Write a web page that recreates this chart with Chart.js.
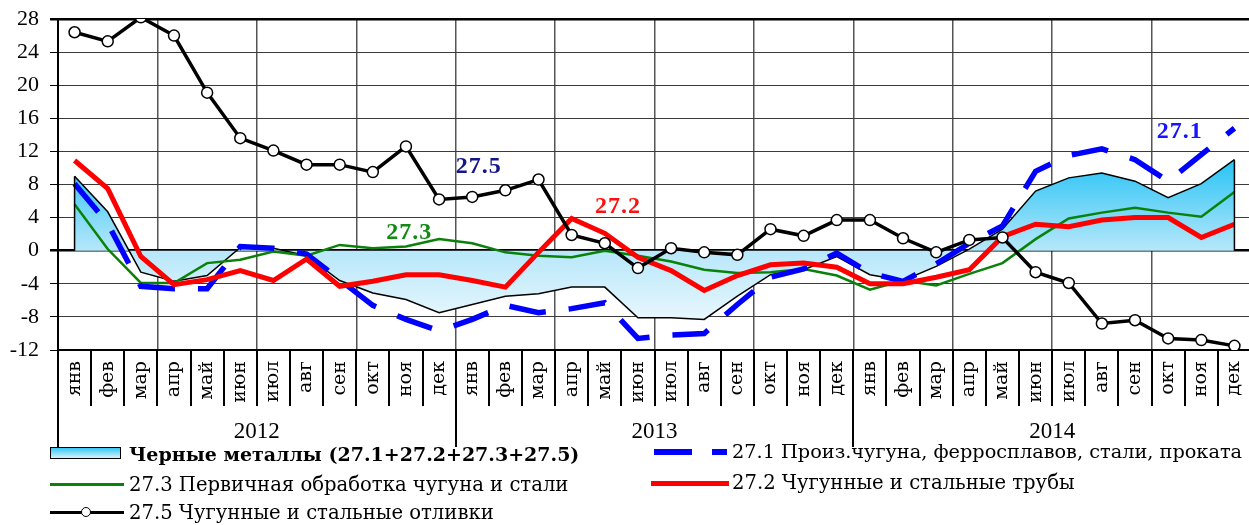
<!DOCTYPE html>
<html>
<head>
<meta charset="utf-8">
<script src="https://cdn.jsdelivr.net/npm/chart.js@4.4.1/dist/chart.umd.min.js"></script>
<style>
  html, body { margin: 0; padding: 0; background: #fff; }
  #wrap { position: relative; width: 1249px; height: 525px; overflow: hidden; }
  #chart { position: absolute; left: 0; top: 0; }
  .lg { position: absolute; font-family: "DejaVu Serif", serif; font-size: 19.6px; line-height: 24px; color: #000; white-space: nowrap; }
  .mk { position: absolute; }
</style>
</head>
<body>
<div id="wrap">
  <canvas id="chart" width="1258" height="525"></canvas>

  <div class="mk" style="left:50px;top:447px;width:69px;height:10px;border:1.5px solid #000;background:linear-gradient(#35c8f6,#d8f2fc);"></div>
  <div class="lg" style="left:129px;top:442px;font-weight:bold;font-size:19px;">Черные металлы (27.1+27.2+27.3+27.5)</div>

  <div class="mk" style="left:50px;top:483px;width:74px;height:3px;background:#0a820a;"></div>
  <div class="lg" style="left:129px;top:473px;">27.3 Первичная обработка чугуна и стали</div>

  <div class="mk" style="left:50px;top:511px;width:74px;height:3px;background:#000;"></div>
  <div class="mk" style="left:81px;top:507px;width:8px;height:8px;border:1.5px solid #000;border-radius:50%;background:#fff;"></div>
  <div class="lg" style="left:129px;top:501px;">27.5 Чугунные и стальные отливки</div>

  <div class="mk" style="left:654px;top:449px;width:38px;height:6px;background:#0000ff;"></div>
  <div class="mk" style="left:712px;top:449px;width:15px;height:6px;background:#0000ff;"></div>
  <div class="lg" style="left:732px;top:440px;font-size:19.3px;">27.1 Произ.чугуна, ферросплавов, стали, проката</div>

  <div class="mk" style="left:651px;top:481px;width:78px;height:5px;background:#ff0000;"></div>
  <div class="lg" style="left:732px;top:471px;">27.2 Чугунные и стальные трубы</div>
</div>

<script>
'use strict';

// Months and years for the two-level category axis
var months = ['янв', 'фев', 'мар', 'апр', 'май', 'июн', 'июл', 'авг', 'сен', 'окт', 'ноя', 'дек'];
var years = ['2012', '2013', '2014'];
var labels = months.concat(months, months);

// Black metals total (27.1+27.2+27.3+27.5)
var blackMetals = [9.0, 4.7, -2.6, -3.7, -3.0, 0.4, 0.3, -0.6, -3.6, -5.1, -5.9, -7.5,
  -6.5, -5.5, -5.2, -4.4, -4.4, -8.1, -8.1, -8.3, -5.5, -2.9, -2.3, -0.7,
  -2.9, -3.6, -1.9, 0.2, 2.6, 7.2, 8.8, 9.4, 8.4, 6.4, 8.1, 11.0];

// 27.1 Pig iron, ferroalloys, steel, rolled
var s271 = [8.1, 3.3, -4.3, -4.6, -4.6, 0.5, 0.3, -0.4, -3.5, -6.6, -8.3, -9.7,
  -8.3, -6.6, -7.5, -7.0, -6.3, -10.6, -10.2, -10.0, -6.5, -3.2, -2.2, -0.3,
  -2.7, -3.7, -1.6, 0.9, 3.0, 9.6, 11.5, 12.3, 11.0, 8.4, 11.6, 14.8];

// 27.2 Pipes
var s272 = [10.9, 7.5, -0.7, -4.1, -3.5, -2.4, -3.6, -1.0, -4.3, -3.7, -2.9, -2.9,
  -3.6, -4.4, -0.2, 3.9, 2.1, -0.8, -2.4, -4.8, -3.0, -1.7, -1.5, -2.0,
  -4.0, -4.0, -3.2, -2.3, 1.7, 3.2, 2.9, 3.7, 4.0, 4.0, 1.6, 3.2];

// 27.3 Primary processing
var s273 = [5.6, 0.2, -3.9, -3.9, -1.5, -1.1, -0.1, -0.6, 0.7, 0.3, 0.5, 1.4,
  0.9, -0.2, -0.6, -0.8, 0.0, -0.6, -1.3, -2.3, -2.7, -2.6, -2.2, -3.0,
  -4.7, -3.6, -4.2, -2.8, -1.5, 1.4, 3.9, 4.6, 5.2, 4.6, 4.1, 7.1];

// 27.5 Castings
var s275 = [26.4, 25.3, 28.2, 26.0, 19.1, 13.6, 12.1, 10.4, 10.4, 9.5, 12.6, 6.2,
  6.5, 7.3, 8.6, 1.9, 0.9, -2.1, 0.3, -0.2, -0.5, 2.6, 1.8, 3.7,
  3.7, 1.5, -0.2, 1.3, 1.6, -2.6, -3.9, -8.8, -8.4, -10.6, -10.8, -11.5];

// Series tags written inside the plot: [text, category index, value, colour]
var tags = [
  ['27.5', 12.2, 10.1, '#15158a'],
  ['27.2', 16.4, 5.3, '#ff1010'],
  ['27.3', 10.1, 2.15, '#108a10'],
  ['27.1', 33.35, 14.35, '#1515ff']
];

var serif = '"Liberation Serif", serif';

function areaFill(context) {
  var chart = context.chart;
  if (!chart.chartArea) return 'rgba(0,0,0,0)';
  var y = chart.scales.y;
  var g = chart.ctx.createLinearGradient(0, y.getPixelForValue(11), 0, y.getPixelForValue(-8.5));
  g.addColorStop(0, '#27c3f5');
  g.addColorStop(0.56, '#b6e7fa');
  g.addColorStop(1, '#e9f7fd');
  return g;
}

var decor = {
  id: 'decor',
  afterDraw: function (chart) {
    var ctx = chart.ctx;
    var x = chart.scales.x;
    var y = chart.scales.y;
    var a = chart.chartArea;
    var i;
    ctx.save();

    // edges of the filled area
    ctx.strokeStyle = '#000';
    ctx.lineWidth = 1.5;
    ctx.beginPath();
    ctx.moveTo(x.getPixelForValue(0), y.getPixelForValue(0));
    ctx.lineTo(x.getPixelForValue(0), y.getPixelForValue(blackMetals[0]));
    var last = blackMetals.length - 1;
    ctx.moveTo(x.getPixelForValue(last), y.getPixelForValue(0));
    ctx.lineTo(x.getPixelForValue(last), y.getPixelForValue(blackMetals[last]));
    ctx.stroke();

    // month / year separators under the axis
    ctx.lineWidth = 2;
    for (i = 0; i <= labels.length; i++) {
      var px = Math.round(x.getPixelForValue(i - 0.5));
      ctx.beginPath();
      ctx.moveTo(px, a.bottom);
      ctx.lineTo(px, a.bottom + (i % 12 === 0 ? 97 : 56));
      ctx.stroke();
    }

    // year labels
    ctx.fillStyle = '#000';
    ctx.font = '23px ' + serif;
    ctx.textAlign = 'center';
    ctx.textBaseline = 'middle';
    for (i = 0; i < years.length; i++) {
      ctx.fillText(years[i], x.getPixelForValue(i * 12 + 5.5), a.bottom + 82);
    }

    // series tags
    ctx.font = 'bold 24px ' + serif;
    ctx.letterSpacing = '1px';
    for (i = 0; i < tags.length; i++) {
      ctx.fillStyle = tags[i][3];
      ctx.fillText(tags[i][0], x.getPixelForValue(tags[i][1]), y.getPixelForValue(tags[i][2]));
    }
    ctx.restore();
  }
};

var ctx = document.getElementById('chart').getContext('2d');

var chart = new Chart(ctx, {
  type: 'line',
  data: {
    labels: labels,
    datasets: [
      {
        label: 'Черные металлы (27.1+27.2+27.3+27.5)',
        data: blackMetals,
        fill: 'origin',
        backgroundColor: areaFill,
        borderColor: '#000',
        borderWidth: 1.5,
        pointRadius: 0,
        tension: 0,
        order: 5
      },
      {
        label: '27.3 Первичная обработка чугуна и стали',
        data: s273,
        borderColor: '#0a820a',
        borderWidth: 2.5,
        pointRadius: 0,
        fill: false,
        order: 4
      },
      {
        label: '27.1 Произ.чугуна, ферросплавов, стали, проката',
        data: s271,
        borderColor: '#0000ff',
        borderWidth: 5.5,
        borderDash: [37, 23],
        borderCapStyle: 'butt',
        pointRadius: 0,
        fill: false,
        order: 3
      },
      {
        label: '27.2 Чугунные и стальные трубы',
        data: s272,
        borderColor: '#ff0000',
        borderWidth: 5,
        pointRadius: 0,
        fill: false,
        order: 2
      },
      {
        label: '27.5 Чугунные и стальные отливки',
        data: s275,
        borderColor: '#000',
        borderWidth: 3.5,
        pointRadius: 5.5,
        pointBackgroundColor: '#fff',
        pointBorderColor: '#000',
        pointBorderWidth: 1.5,
        fill: false,
        order: 1
      }
    ]
  },
  options: {
    responsive: false,
    animation: false,
    devicePixelRatio: 1,
    layout: { padding: { top: 19, right: 0, left: 0, bottom: 0 } },
    plugins: {
      legend: { display: false },
      tooltip: { enabled: false }
    },
    scales: {
      x: {
        offset: true,
        afterFit: function (s) {
          s.height = 175;
          s.paddingLeft = 0;
          s.paddingRight = 0;
        },
        grid: {
          offset: true,
          drawTicks: false,
          color: function (c) { return c.index % 3 === 0 ? '#555' : 'rgba(0,0,0,0)'; },
          lineWidth: 1.5
        },
        border: { color: '#000', width: 2 },
        ticks: {
          autoSkip: false,
          minRotation: 90,
          maxRotation: 90,
          padding: 11,
          color: '#000',
          font: { family: '"DejaVu Serif", serif', size: 19 }
        }
      },
      y: {
        min: -12,
        max: 28,
        afterFit: function (s) {
          s.width = 58;
          s.paddingTop = 0;
          s.paddingBottom = 0;
        },
        grid: {
          color: function (c) { return (c.tick.value === 0 || c.tick.value === 28) ? '#000' : '#3a3a3a'; },
          lineWidth: function (c) { return (c.tick.value === 0 || c.tick.value === 28) ? 2.5 : 1; },
          tickLength: 8,
          tickColor: '#000'
        },
        border: { color: '#000', width: 2 },
        ticks: {
          stepSize: 4,
          padding: 11,
          color: '#000',
          font: { family: serif, size: 22 }
        }
      }
    }
  },
  plugins: [decor]
});
</script>
</body>
</html>
